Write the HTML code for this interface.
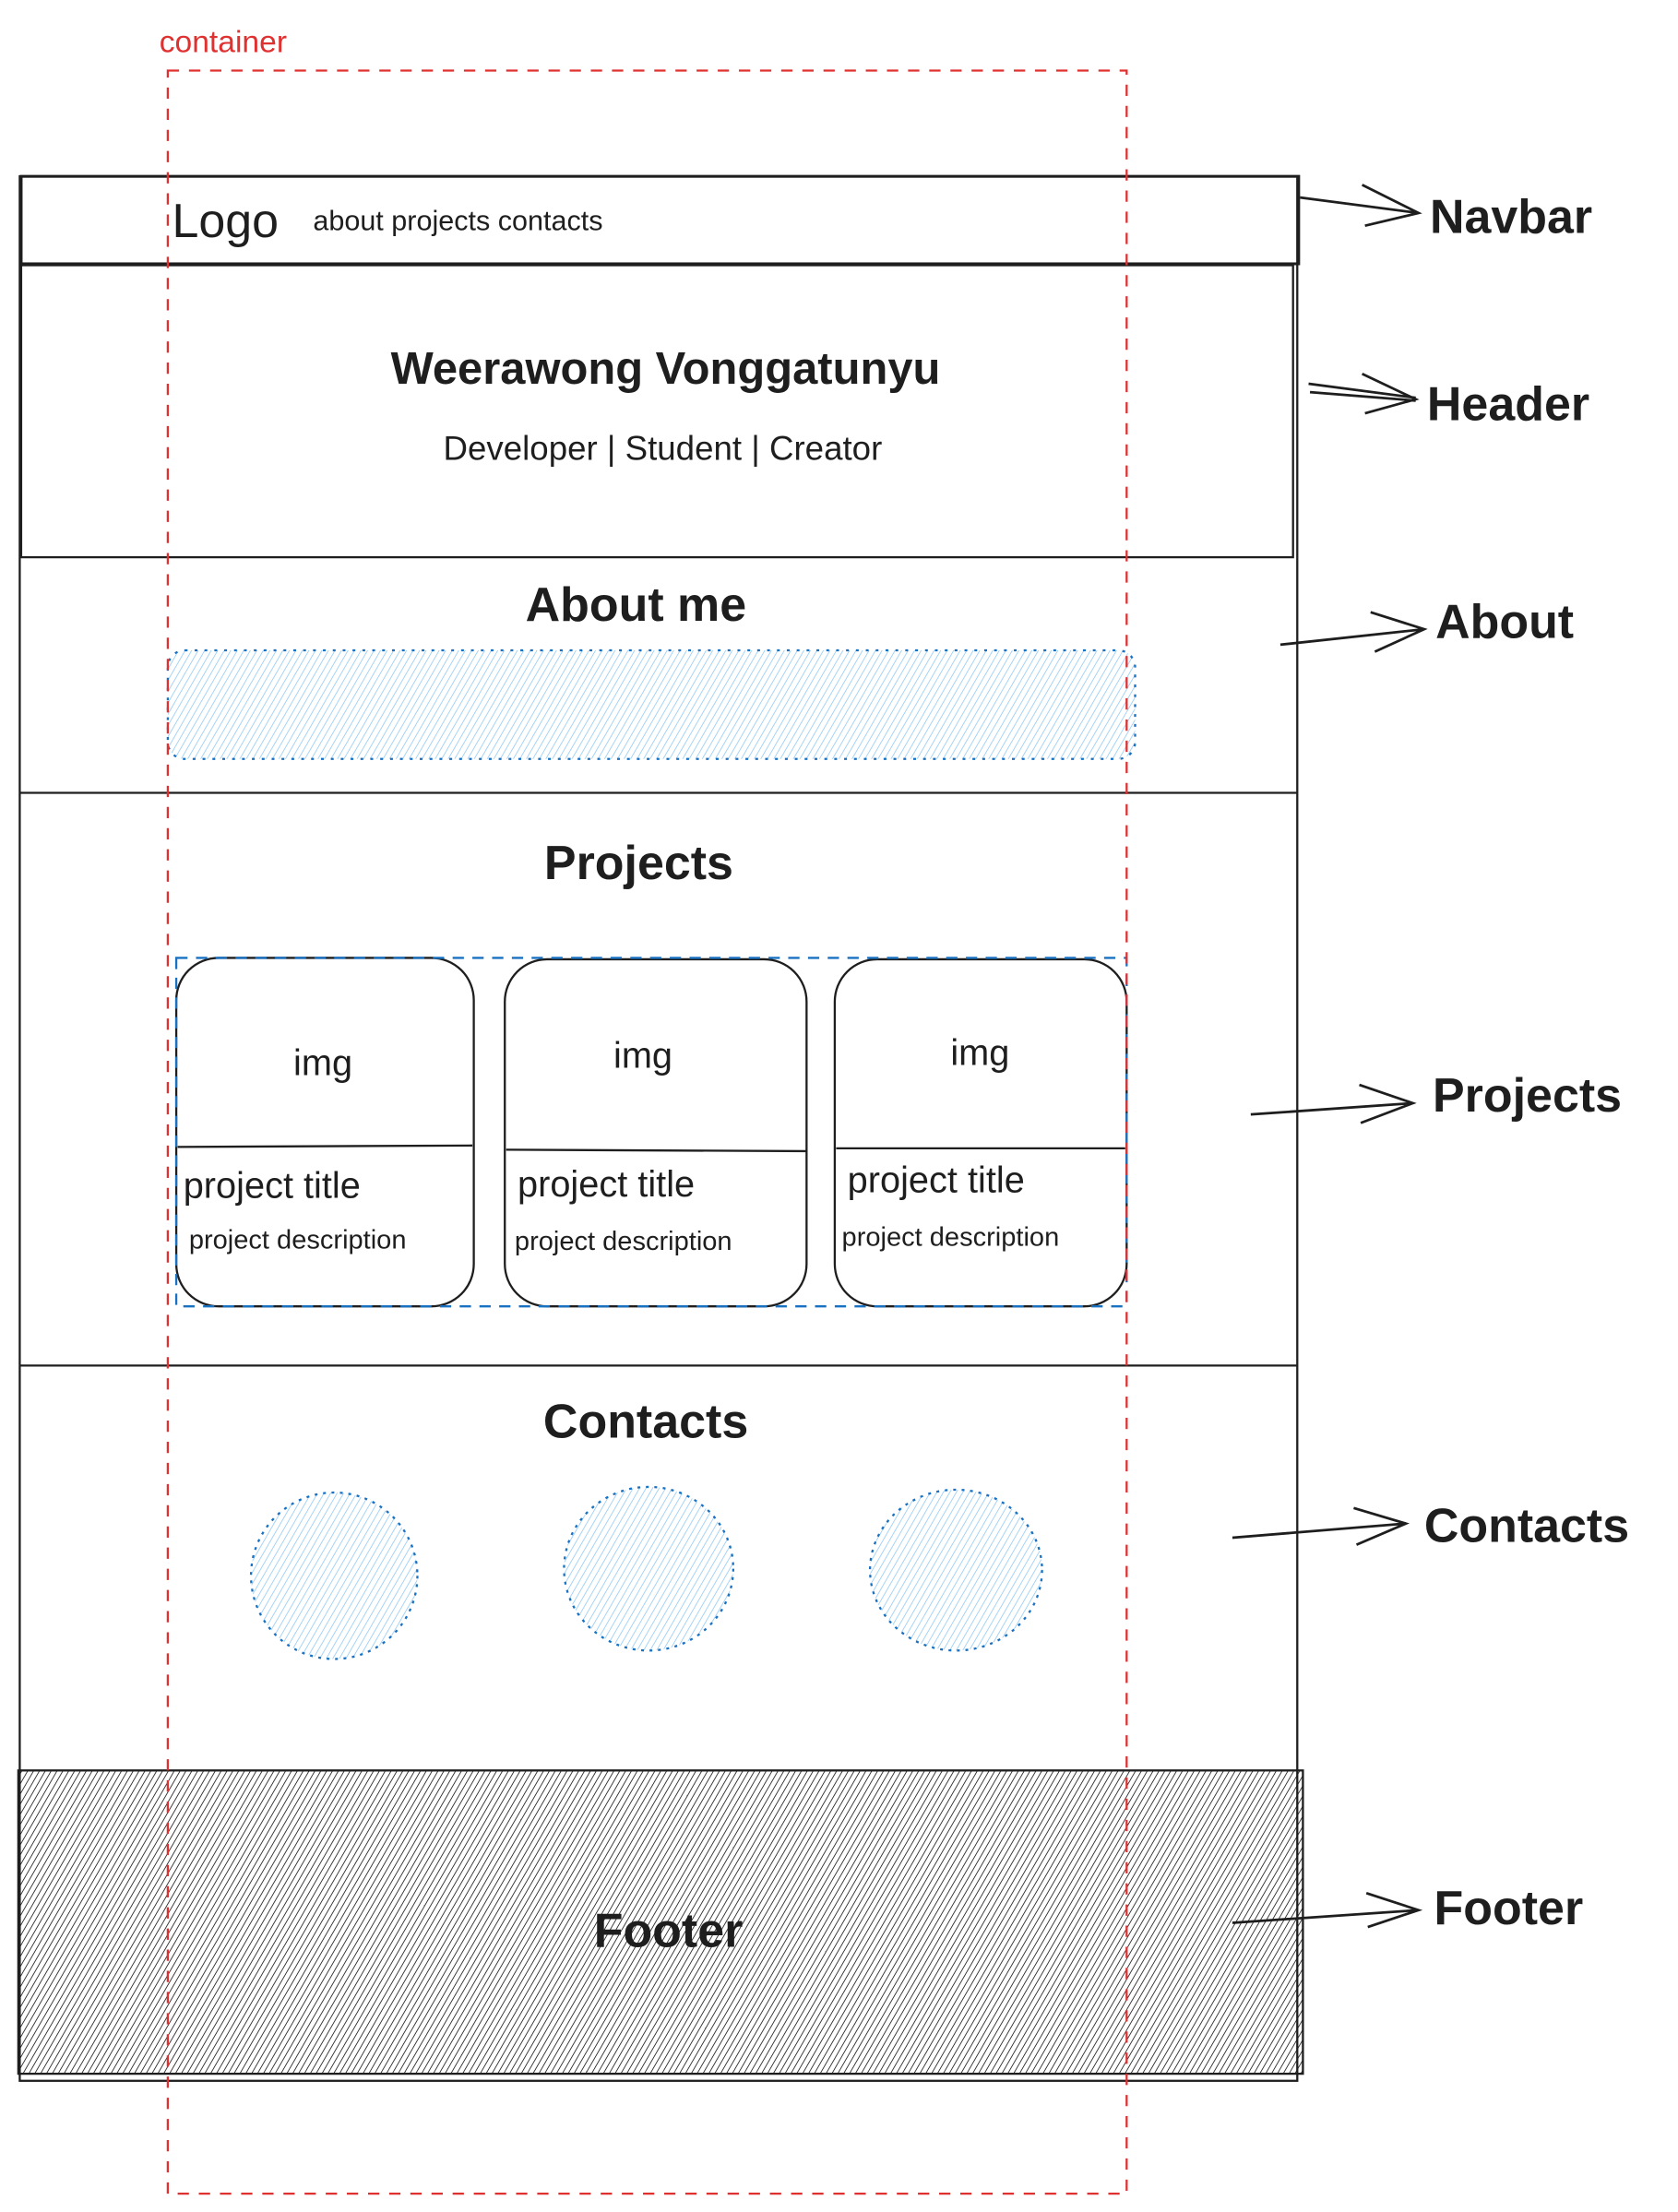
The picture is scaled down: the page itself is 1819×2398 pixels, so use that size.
<!DOCTYPE html>
<html><head><meta charset="utf-8"><style>
html,body{margin:0;padding:0;background:#fff;}
svg{display:block;}
text{font-family:"Liberation Sans",sans-serif;fill:#1e1e1e;}
</style></head><body>
<svg width="1819" height="2398" viewBox="0 0 1190 1568" preserveAspectRatio="none" xmlns="http://www.w3.org/2000/svg">
<defs>
<pattern id="hb" width="4" height="6" patternUnits="userSpaceOnUse" patternTransform="rotate(30)">
<line x1="0" y1="0" x2="0" y2="6" stroke="#8ec7f2" stroke-width="1"/>
</pattern>
<pattern id="hd" width="3.6" height="6" patternUnits="userSpaceOnUse" patternTransform="rotate(30)">
<line x1="0" y1="0" x2="0" y2="6" stroke="#1e1e1e" stroke-width="1.1"/>
</pattern>
</defs>
<g fill="none" stroke="#1e1e1e" stroke-width="1.5">
<rect x="14" y="125" width="906" height="1350"/>
<rect x="15" y="125" width="906" height="62" stroke-width="2"/>
<rect x="15" y="188" width="902" height="207"/>
<line x1="14" y1="562" x2="920" y2="562"/>
<line x1="14" y1="968" x2="920" y2="968"/>
</g>
<rect x="13" y="1255" width="911" height="215" fill="url(#hd)" stroke="#1e1e1e" stroke-width="1.5"/>
<rect x="119" y="461" width="686" height="77" rx="12" fill="url(#hb)" stroke="#1971c2" stroke-width="1.5" stroke-dasharray="2 5"/>
<g fill="none" stroke="#1e1e1e" stroke-width="1.5">
<rect x="125" y="679" width="211" height="247" rx="30"/>
<rect x="358" y="680" width="214" height="246" rx="30"/>
<rect x="592" y="680" width="207" height="246" rx="30"/>
<line x1="126" y1="813" x2="335" y2="812"/>
<line x1="359" y1="815" x2="572" y2="816"/>
<line x1="593" y1="814" x2="798" y2="814"/>
</g>
<rect x="125" y="679" width="674" height="247" fill="none" stroke="#1971c2" stroke-width="1.5" stroke-dasharray="8 6"/>
<g fill="url(#hb)" stroke="#1971c2" stroke-width="1.5" stroke-dasharray="2 4">
<ellipse cx="237" cy="1117" rx="59" ry="59"/>
<ellipse cx="460" cy="1112" rx="60" ry="58"/>
<ellipse cx="678" cy="1113" rx="61" ry="57"/>
</g>
<rect x="119" y="50" width="680" height="1505" fill="none" stroke="#e03131" stroke-width="1.5" stroke-dasharray="8 7"/>
<text x="113" y="37" font-size="22" style="fill:#e03131">container</text>
<g fill="none" stroke="#1e1e1e" stroke-width="1.8">
<path d="M922 140 L1006 151 M966 131 L1006 151 L968 160"/>
<path d="M928 272 L1004 282 M929 278 L1004 284 M966 265 L1004 283 L968 293"/>
<path d="M908 457 L1010 446 M972 434 L1010 446 L975 462"/>
<path d="M887 790 L1002 782 M964 769 L1002 782 L965 796"/>
<path d="M874 1090 L997 1080 M960 1069 L997 1080 L962 1095"/>
<path d="M874 1363 L1006 1354 M969 1342 L1006 1354 L970 1366"/>
</g>
<g font-weight="bold">
<text x="1014" y="165" font-size="34">Navbar</text>
<text x="1012" y="298" font-size="34">Header</text>
<text x="1018" y="452" font-size="34">About</text>
<text x="1016" y="788" font-size="34">Projects</text>
<text x="1010" y="1093" font-size="34">Contacts</text>
<text x="1017" y="1364" font-size="34">Footer</text>
<text x="451" y="440" font-size="34" text-anchor="middle">About me</text>
<text x="453" y="623" font-size="34" text-anchor="middle">Projects</text>
<text x="458" y="1019" font-size="34" text-anchor="middle">Contacts</text>
<text x="474" y="1380" font-size="34" text-anchor="middle">Footer</text>
<text x="472" y="272" font-size="32" text-anchor="middle">Weerawong Vonggatunyu</text>
</g>
<text x="122" y="168" font-size="34">Logo</text>
<text x="222" y="163" font-size="20">about projects contacts</text>
<text x="470" y="326" font-size="24" text-anchor="middle">Developer | Student | Creator</text>
<g font-size="26" text-anchor="middle">
<text x="229" y="762">img</text>
<text x="456" y="757">img</text>
<text x="695" y="755">img</text>
</g>
<g font-size="26">
<text x="130" y="849">project title</text>
<text x="367" y="848">project title</text>
<text x="601" y="845">project title</text>
</g>
<g font-size="19">
<text x="134" y="885">project description</text>
<text x="365" y="886">project description</text>
<text x="597" y="883">project description</text>
</g>
</svg>
</body></html>
